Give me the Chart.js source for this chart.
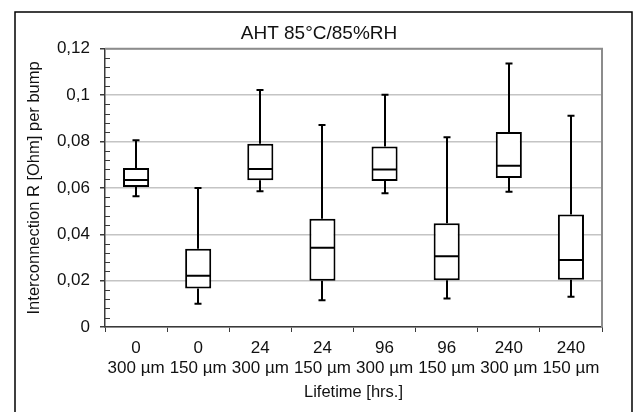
<!DOCTYPE html>
<html>
<head>
<meta charset="utf-8">
<script src="https://cdn.jsdelivr.net/npm/chart.js@4/dist/chart.umd.min.js"></script>
<style>
  html, body { margin: 0; padding: 0; background: #fff; }
</style>
</head>
<body>
<canvas id="box-chart" width="638" height="412"></canvas>
<script>
// categories (two-line tick labels)
const lifetimes = ['0', '0', '24', '24', '96', '96', '240', '240'];
const pitches = ['300 µm', '150 µm', '300 µm', '150 µm', '300 µm', '150 µm', '300 µm', '150 µm'];

// box plot statistics
const mins    = [0.0564, 0.0100, 0.0586, 0.0115, 0.0577, 0.0123, 0.0583, 0.0131];
const q1s     = [0.0604, 0.0166, 0.0633, 0.0199, 0.0630, 0.0202, 0.0643, 0.0204];
const medians = [0.0634, 0.0221, 0.0682, 0.0342, 0.0679, 0.0305, 0.0696, 0.0289];
const q3s     = [0.0686, 0.0337, 0.0790, 0.0467, 0.0779, 0.0448, 0.0841, 0.0485];
const maxs    = [0.0805, 0.0600, 0.1022, 0.0871, 0.1002, 0.0819, 0.1137, 0.0911];

const yMax = 0.12;
const yStep = 0.02;
const yMinorStep = 0.004;

const FONT = "'Liberation Sans', Arial, sans-serif";
const TEXT = '#111';
const AXIS = '#3a3a3a';

const formatTick = v => {
    const r = Math.round(v * 1000) / 1000;
    return String(r).replace('.', ',');
}

// whiskers, caps and median lines on top of the floating bars
const whiskerPlugin = {
    id: 'whiskers',
    afterDatasetsDraw(chart) {
        const { ctx } = chart;
        const y = chart.scales.y;
        const bars = chart.getDatasetMeta(0).data;
        ctx.save();
        ctx.strokeStyle = '#000';
        ctx.lineWidth = 2;
        bars.forEach((bar, i) => {
            const x = Math.round(bar.x);
            const half = bar.width / 2;
            const pMin = y.getPixelForValue(mins[i]);
            const pQ1 = y.getPixelForValue(q1s[i]);
            const pMed = y.getPixelForValue(medians[i]);
            const pQ3 = y.getPixelForValue(q3s[i]);
            const pMax = y.getPixelForValue(maxs[i]);
            ctx.beginPath();
            ctx.moveTo(x, pQ3); ctx.lineTo(x, pMax);
            ctx.moveTo(x, pQ1); ctx.lineTo(x, pMin);
            ctx.moveTo(x - 3.5, pMax); ctx.lineTo(x + 3.5, pMax);
            ctx.moveTo(x - 3.5, pMin); ctx.lineTo(x + 3.5, pMin);
            ctx.moveTo(bar.x - half + 1, pMed); ctx.lineTo(bar.x + half - 1, pMed);
            ctx.stroke();
        });
        ctx.restore();
    }
};

// white background, outer frame, grey plot frame, inner minor ticks
const framePlugin = {
    id: 'frame',
    beforeDraw(chart) {
        const { ctx, width, height } = chart;
        ctx.save();
        ctx.fillStyle = '#fff';
        ctx.fillRect(0, 0, width, height);
        ctx.restore();
    },
    afterDraw(chart) {
        const { ctx, chartArea: a } = chart;
        const y = chart.scales.y;
        ctx.save();
        ctx.strokeStyle = '#000';
        ctx.lineWidth = 1.5;
        ctx.beginPath();
        ctx.moveTo(15, 420); ctx.lineTo(15, 12); ctx.lineTo(632, 12); ctx.lineTo(632, 420);
        ctx.stroke();

        ctx.strokeStyle = '#8c8c8c';
        ctx.lineWidth = 2;
        ctx.beginPath();
        ctx.moveTo(a.left, a.top); ctx.lineTo(a.right, a.top); ctx.lineTo(a.right, a.bottom);
        ctx.stroke();

        ctx.strokeStyle = AXIS;
        ctx.lineWidth = 1;
        ctx.beginPath();
        for (let k = 1; k * yMinorStep < yMax - 1e-9; k++) {
            if (k % 5 === 0) continue;
            const py = Math.round(y.getPixelForValue(k * yMinorStep)) + 0.5;
            ctx.moveTo(a.left, py); ctx.lineTo(a.left + 5, py);
        }
        ctx.stroke();
        ctx.restore();
    }
};

const ctx = document.getElementById('box-chart');
const chart = new Chart(ctx, {
    type: 'bar',
    data: {
        labels: lifetimes.map((t, i) => [t, pitches[i]]),
        datasets: [{
            data: q1s.map((q, i) => [q, q3s[i]]),
            backgroundColor: '#fff',
            borderColor: '#000',
            borderWidth: 2,
            borderSkipped: false,
            barPercentage: 0.42,
            categoryPercentage: 1
        }]
    },
    options: {
        responsive: false,
        animation: false,
        layout: { padding: 0 },
        plugins: {
            legend: { display: false },
            tooltip: { enabled: false },
            title: {
                display: true,
                text: 'AHT 85°C/85%RH',
                color: TEXT,
                font: { family: FONT, size: 19, weight: 'normal' },
                padding: { top: 22, bottom: 4 }
            }
        },
        scales: {
            x: {
                grid: { drawOnChartArea: false, tickLength: 5, tickColor: AXIS, offset: true },
                border: { color: AXIS, width: 1.5 },
                ticks: {
                    color: TEXT, padding: 7, maxRotation: 0, autoSkip: false,
                    font: { family: FONT, size: 17, lineHeight: 1.13 }
                },
                title: {
                    display: true, text: 'Lifetime [hrs.]', color: TEXT,
                    font: { family: FONT, size: 16.5 },
                    padding: { top: 0, bottom: 10 }
                },
                afterFit(scale) { scale.height = 85; }
            },
            y: {
                min: 0,
                max: yMax,
                grid: { color: '#c4c4c4', lineWidth: 1.5, tickLength: 5, tickColor: AXIS },
                border: { color: AXIS, width: 1.5 },
                ticks: {
                    stepSize: yStep, color: TEXT, padding: 10,
                    font: { family: FONT, size: 17 },
                    callback: v => formatTick(v)
                },
                title: {
                    display: true, text: 'Interconnection R [Ohm] per bump', color: TEXT,
                    font: { family: FONT, size: 16.5 },
                    padding: { top: 25, bottom: 0 }
                },
                afterFit(scale) { scale.width = 105; }
            },
            // empty right-hand gutter so the title centres on the whole figure
            gutter: {
                type: 'linear',
                position: 'right',
                min: 0,
                max: yMax,
                grid: { display: false },
                border: { display: false },
                ticks: { display: false },
                afterFit(scale) { scale.width = 36; }
            }
        }
    },
    plugins: [framePlugin, whiskerPlugin]
});
</script>
</body>
</html>
